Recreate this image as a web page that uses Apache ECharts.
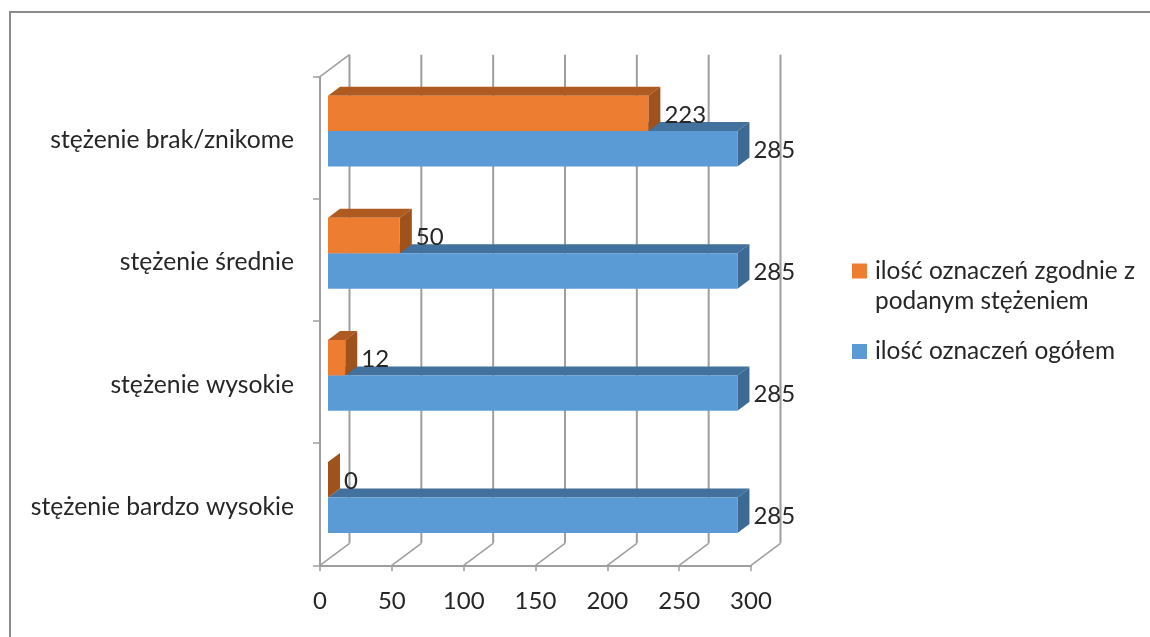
<!DOCTYPE html>
<html>
<head>
<meta charset="utf-8">
<style>html,body{margin:0;padding:0;background:#fff}#chart{width:1150px;height:637px}</style>
<script src="https://cdn.jsdelivr.net/npm/echarts@6/dist/echarts.min.js"></script>
</head>
<body>
<div id="chart"></div>
<script>
// Bottom-to-top order on the category axis
const categories = ['stężenie bardzo wysokie', 'stężenie wysokie', 'stężenie średnie', 'stężenie brak/znikome'];
const matchingCounts = [0, 12, 50, 223];
const totalCounts = [285, 285, 285, 285];
const xTicks = [0, 50, 100, 150, 200, 250, 300];
const matchingName = 'ilość oznaczeń zgodnie z\npodanym stężeniem';
const totalName = 'ilość oznaczeń ogółem';

const FONT = 'Lato, "Noto Sans", sans-serif';
const TEXT = '#262626';
const WALL = '#9e9e9e';
// Oblique projection of the chart box: wall depth and bar inset/depth, in pixels
const WALL_DX = 29.5, WALL_DY = -22;
const INSET_DX = 8, INSET_DY = -6.7;
const BAR_DX = 12, BAR_DY = -9;
const BAR_RATIO = 0.29;

// Draws one 3D bar: front face, top face, end face and its value label
function bar3d(front, top, side, slot) {
  return function (params, api) {
    const value = api.value(0);
    const origin = api.coord([0, api.value(1)]);
    const end = api.coord([value, api.value(1)]);
    const h = api.size([0, 1])[1] * BAR_RATIO;
    const x0 = origin[0] + INSET_DX;
    const x1 = end[0] + INSET_DX;
    const y0 = origin[1] + INSET_DY + slot * h;
    const y1 = y0 + h;
    const children = [];
    children.push({
      type: 'polygon',
      shape: { points: [[x0, y0], [x1, y0], [x1 + BAR_DX, y0 + BAR_DY], [x0 + BAR_DX, y0 + BAR_DY]] },
      style: { fill: top }
    });
    children.push({
      type: 'polygon',
      shape: { points: [[x1, y0], [x1 + BAR_DX, y0 + BAR_DY], [x1 + BAR_DX, y1 + BAR_DY], [x1, y1]] },
      style: { fill: side }
    });
    if (value > 0) {
      children.push({
        type: 'rect',
        shape: { x: x0, y: y0, width: x1 - x0, height: h },
        style: { fill: front }
      });
    }
    children.push({
      type: 'text',
      z2: 50,
      style: {
        text: String(value), x: x1 + 16, y: y0 + h / 2 + 1.5,
        align: 'left', verticalAlign: 'middle',
        font: '24px ' + FONT, fill: TEXT
      }
    });
    return { type: 'group', children: children };
  };
}

// Back-wall gridline with its floor segment for every value tick
function wallLine(params, api) {
  const rect = params.coordSys;
  const x = api.coord([api.value(0), 0])[0];
  const y = rect.y + rect.height;
  const floorX = x + WALL_DX, floorY = y + WALL_DY;
  return {
    type: 'group',
    children: [
      { type: 'line', shape: { x1: x, y1: y, x2: floorX, y2: floorY }, style: { stroke: WALL, lineWidth: 1.5 } },
      { type: 'line', shape: { x1: floorX, y1: floorY, x2: floorX, y2: rect.y + WALL_DY }, style: { stroke: WALL, lineWidth: 2 } }
    ]
  };
}

// Top edge of the side wall, from the axis top to the back wall
function wallTop(params, api) {
  const rect = params.coordSys;
  return {
    type: 'line',
    shape: { x1: rect.x, y1: rect.y, x2: rect.x + WALL_DX, y2: rect.y + WALL_DY },
    style: { stroke: WALL, lineWidth: 1.5 }
  };
}

// Legend swatches sit on the first text line, so a multi-line name gets a blank line above it
function legendText(name) {
  const lines = name.split('\n').map(l => '{t|' + l + '}');
  if (lines.length > 1) lines.unshift('{t| }');
  return lines.join('\n');
}

const chart = echarts.init(document.getElementById('chart'));
chart.setOption({
  animation: false,
  backgroundColor: '#ffffff',
  textStyle: { fontFamily: FONT, color: TEXT },
  graphic: [{
    type: 'polyline',
    silent: true,
    shape: { points: [[1150, 12], [10, 12], [10, 637]] },
    style: { stroke: '#8c8c8c', lineWidth: 2, fill: 'none' }
  }],
  grid: { left: 320, top: 76.7, width: 431, height: 488.6 },
  xAxis: {
    type: 'value', min: 0, max: 300, interval: 50,
    splitLine: { show: false },
    axisLine: { show: true, onZero: false, lineStyle: { color: WALL, width: 2 } },
    axisTick: { show: true, length: 6, lineStyle: { color: WALL, width: 1.5 } },
    axisLabel: { color: TEXT, fontFamily: FONT, fontSize: 24, margin: 24, showMinLabel: true, showMaxLabel: true, hideOverlap: false }
  },
  yAxis: {
    type: 'category', data: categories,
    axisLine: { show: true, lineStyle: { color: WALL, width: 2 } },
    axisTick: { show: true, length: 7, lineStyle: { color: WALL, width: 1.5 } },
    axisLabel: {
      margin: 26,
      formatter: v => '{c|' + v + '}',
      rich: { c: { color: TEXT, fontFamily: FONT, fontSize: 24.7, padding: [5, 0, 0, 0] } }
    }
  },
  legend: {
    left: 852, top: 226, padding: 0, orient: 'vertical', itemWidth: 15, itemHeight: 15, itemGap: 20.5,
    selectedMode: false,
    formatter: legendText,
    textStyle: {
      lineHeight: 30,
      rich: { t: { color: TEXT, fontFamily: FONT, fontSize: 24.4, lineHeight: 30, padding: [0, 0, 0, 3] } }
    },
    data: [
      { name: matchingName, icon: 'rect' },
      { name: totalName, icon: 'rect' }
    ]
  },
  series: [
    { type: 'custom', name: 'wall', coordinateSystem: 'cartesian2d', silent: true, renderItem: wallLine, data: xTicks.map(v => [v, 0]), encode: { x: 0, y: 1 }, z: 1 },
    { type: 'custom', name: 'wallTop', coordinateSystem: 'cartesian2d', silent: true, renderItem: wallTop, data: [[0, 0]], encode: { x: 0, y: 1 }, z: 1 },
    {
      type: 'custom', name: totalName, coordinateSystem: 'cartesian2d', z: 3,
      itemStyle: { color: '#5b9bd5' },
      renderItem: bar3d('#5b9bd5', '#41719c', '#3d6a94', 0),
      data: totalCounts.map((v, i) => [v, i]), encode: { x: 0, y: 1 }
    },
    {
      type: 'custom', name: matchingName, coordinateSystem: 'cartesian2d', z: 4,
      itemStyle: { color: '#ed7d31' },
      renderItem: bar3d('#ed7d31', '#ae5a21', '#a0521d', -1),
      data: matchingCounts.map((v, i) => [v, i]), encode: { x: 0, y: 1 }
    }
  ]
});
</script>
</body>
</html>
